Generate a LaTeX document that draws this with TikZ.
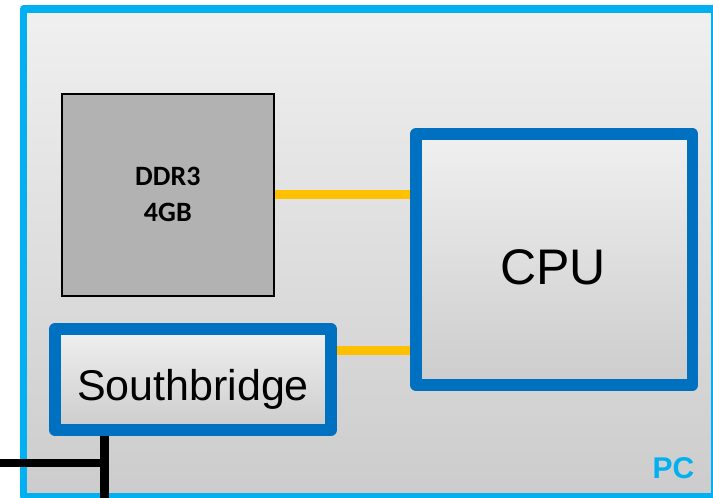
\documentclass[tikz,border=0pt]{standalone}
\usepackage{fontspec}
\setmainfont{Liberation Sans}
\newfontfamily\calibrifont{Carlito}
\definecolor{pcblue}{HTML}{00B0F0}
\definecolor{chipblue}{HTML}{0070C0}
\definecolor{busyellow}{HTML}{FFC000}
\definecolor{ramgray}{HTML}{B2B2B2}
\definecolor{shadetop}{HTML}{F0F0F0}
\definecolor{shadebot}{HTML}{CCCCCC}
\begin{document}
\begin{tikzpicture}[x=1pt,y=-1pt,
  panel/.style={rectangle, inner sep=0pt, line join=round,
    top color=shadetop, bottom color=shadebot},
  pcframe/.style={panel, draw=pcblue, line width=7.7pt},
  chipbox/.style={panel, draw=chipblue, line width=11.7pt},
  rambox/.style={rectangle, inner sep=0pt, draw=black, line width=2.2pt,
    fill=ramgray, align=center,
    font=\calibrifont\bfseries\fontsize{28}{36}\selectfont},
  bigtext/.style={anchor=base, inner sep=0pt, text=black},
  yellowbus/.style={draw=busyellow, line width=9pt},
  blackbus/.style={draw=black, line width=8.5pt}
]
\clip (0,0) rectangle (713,498);
\fill[white] (0,0) rectangle (713,498);

% enclosing PC board
\node[pcframe, minimum width=691.5pt, minimum height=487.5pt] (pc) at (369.25,252.75) {};

% memory module
\node[rambox, minimum width=211.7pt, minimum height=202.2pt] (ddr) at (167.85,194.9) {DDR3\\4GB};

% processor and southbridge
\node[chipbox, minimum width=276.5pt, minimum height=251pt] (cpu) at (554.25,259.5) {};
\node[chipbox, minimum width=276.5pt, minimum height=100.4pt] (sb) at (193,379.5) {};

\node[bigtext, font=\fontsize{50}{60}\selectfont] (cpulabel) at (553,284.5) {CPU};
\node[bigtext, font=\fontsize{43}{52}\selectfont] (sblabel) at (193,400) {Southbridge};
\node[bigtext, text=pcblue, font=\bfseries\fontsize{30}{36}\selectfont] (pclabel) at (673.4,478.3) {PC};

% buses
\draw[yellowbus] (ddr.east) -- (ddr.east -| cpu.west);
\draw[yellowbus] ([yshift=29.5pt]sb.east) -- ([yshift=29.5pt]sb.east -| cpu.west);

% external link leaving the southbridge
\coordinate (extbot) at (104.5,500);
\coordinate (extleft) at (-2,463);
\draw[blackbus] (sb.south -| extbot) -- (extbot);
\draw[blackbus] (extleft) -- (extleft -| extbot);
\end{tikzpicture}
\end{document}
